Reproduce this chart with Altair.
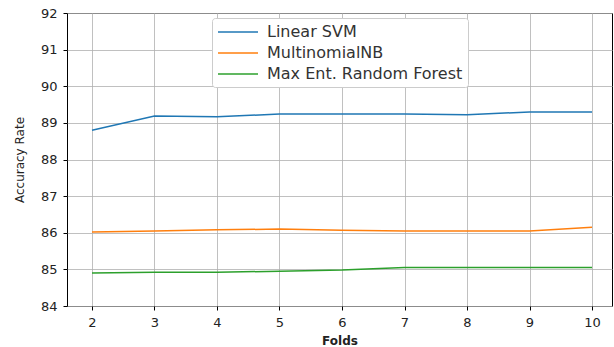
import altair as alt
import pandas as pd

folds = [2, 3, 4, 5, 6, 7, 8, 9, 10]
linear_svm = [88.80, 89.19, 89.17, 89.24, 89.24, 89.24, 89.22, 89.30, 89.30]
multinomial_nb = [86.02, 86.05, 86.08, 86.10, 86.07, 86.05, 86.05, 86.05, 86.15]
max_ent_rf = [84.90, 84.92, 84.92, 84.95, 84.98, 85.05, 85.05, 85.05, 85.05]

series_names = ["Linear SVM", "MultinomialNB", "Max Ent. Random Forest"]
series_colors = ["#1f77b4", "#ff7f0e", "#2ca02c"]
x_ticks = [2, 3, 4, 5, 6, 7, 8, 9, 10]
y_ticks = [84, 85, 86, 87, 88, 89, 90, 91, 92]

rows = []
for name, vals in zip(series_names, [linear_svm, multinomial_nb, max_ent_rf]):
    for f, v in zip(folds, vals):
        rows.append({"Folds": f, "Accuracy": v, "Model": name})
df = pd.DataFrame(rows)

chart = alt.Chart(df).mark_line(strokeWidth=1.5, clip=True).encode(
    x=alt.X("Folds:Q",
            scale=alt.Scale(domain=[1.6, 10.32], nice=False, zero=False),
            axis=alt.Axis(values=x_ticks, title="Folds", format="d",
                          titleFontWeight="bold", titleFontSize=12,
                          titlePadding=6)),
    y=alt.Y("Accuracy:Q",
            scale=alt.Scale(domain=[84, 92], nice=False, zero=False),
            axis=alt.Axis(values=y_ticks, title="Accuracy Rate",
                          titleFontWeight="normal", titleFontSize=12,
                          titlePadding=14)),
    color=alt.Color("Model:N",
                    scale=alt.Scale(domain=series_names, range=series_colors),
                    sort=series_names,
                    legend=alt.Legend(title=None, orient="none",
                                      legendX=145, legendY=5,
                                      symbolType="M-1,0L4.0,0",
                                      symbolSize=256,
                                      symbolStrokeWidth=1.5,
                                      labelFontSize=16,
                                      labelColor="#333",
                                      labelFont="DejaVu Sans",
                                      labelOffset=32,
                                      labelLimit=400,
                                      rowPadding=4,
                                      padding=5,
                                      strokeColor="#cccccc",
                                      fillColor="white",
                                      cornerRadius=3)),
).properties(
    width=545,
    height=293,
    autosize=alt.AutoSizeParams(type="none"),
    padding={"left": 67, "top": 13, "right": 2, "bottom": 41},
).configure_view(
    stroke="#000000", strokeWidth=1
).configure_axis(
    grid=True, gridColor="#b0b0b0", gridWidth=0.8,
    domain=False, tickColor="#000", tickSize=4,
    labelFont="DejaVu Sans", titleFont="DejaVu Sans",
    labelFontSize=13, labelColor="#222", titleColor="#222",
    labelPadding=6
)

chart.save("out.html", embed_options={"renderer": "svg", "actions": False})
